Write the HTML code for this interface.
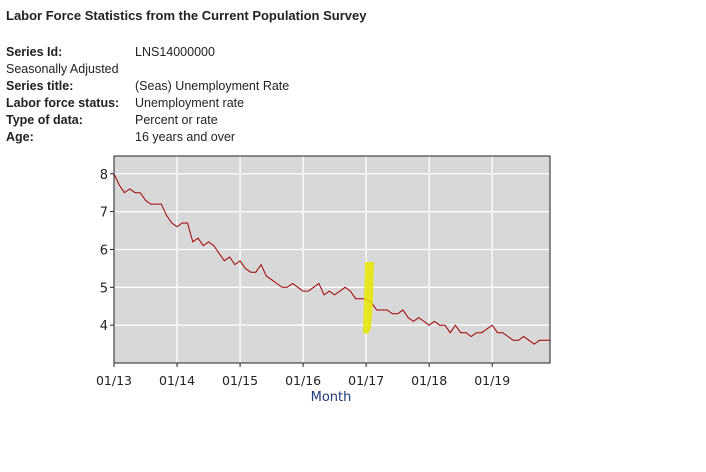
<!DOCTYPE html>
<html><head><meta charset="utf-8"><style>
body{margin:0;width:706px;height:472px;background:#fff;font-family:"Liberation Sans",sans-serif;overflow:hidden;position:relative}
.t{position:absolute;font-size:12.5px;color:#222}
.b{font-weight:bold}
</style></head><body>
<div class="t b" style="left:6px;top:8px;font-size:13px">Labor Force Statistics from the Current Population Survey</div>
<div class="t b" style="left:6px;top:45px">Series Id:</div>
<div class="t" style="left:135px;top:45px">LNS14000000</div>
<div class="t" style="left:6px;top:62px">Seasonally Adjusted</div>
<div class="t b" style="left:6px;top:79px">Series title:</div>
<div class="t" style="left:135px;top:79px">(Seas) Unemployment Rate</div>
<div class="t b" style="left:6px;top:96px">Labor force status:</div>
<div class="t" style="left:135px;top:96px">Unemployment rate</div>
<div class="t b" style="left:6px;top:113px">Type of data:</div>
<div class="t" style="left:135px;top:113px">Percent or rate</div>
<div class="t b" style="left:6px;top:130px">Age:</div>
<div class="t" style="left:135px;top:130px">16 years and over</div>
<svg id="chart" width="706" height="472" style="position:absolute;left:0;top:0"></svg>
<script>
const values=[8.0,7.7,7.5,7.6,7.5,7.5,7.3,7.2,7.2,7.2,6.9,6.7,
6.6,6.7,6.7,6.2,6.3,6.1,6.2,6.1,5.9,5.7,5.8,5.6,
5.7,5.5,5.4,5.4,5.6,5.3,5.2,5.1,5.0,5.0,5.1,5.0,
4.9,4.9,5.0,5.1,4.8,4.9,4.8,4.9,5.0,4.9,4.7,4.7,
4.7,4.6,4.4,4.4,4.4,4.3,4.3,4.4,4.2,4.1,4.2,4.1,
4.0,4.1,4.0,4.0,3.8,4.0,3.8,3.8,3.7,3.8,3.8,3.9,
4.0,3.8,3.8,3.7,3.6,3.6,3.7,3.6,3.5,3.6,3.6,3.6];
const xTickLabels=["01/13","01/14","01/15","01/16","01/17","01/18","01/19"];
const yTicks=[4,5,6,7,8];
const L=114,R=550,T=156,B=363,yMin=3,yMax=8.47;
const xS=i=>L+i*(R-L)/(values.length-1);
const yS=v=>B-(v-yMin)*(B-T)/(yMax-yMin);
const svg=document.getElementById('chart');const NS='http://www.w3.org/2000/svg';
function mk(tag,attrs,name,txt){const e=document.createElementNS(NS,tag);for(const k in attrs)e.setAttribute(k,attrs[k]);


if(txt)e.textContent=txt;svg.appendChild(e);return e;}
mk('rect',{x:L,y:T,width:R-L,height:B-T,fill:'#d8d8d8'},'plot-area');
yTicks.forEach(v=>{const y=yS(v);
mk('line',{x1:L,x2:R,y1:y,y2:y,stroke:'#fff','stroke-width':1.3},'y-gridline');
mk('line',{x1:L-4,x2:L,y1:y,y2:y,stroke:'#222'},'y-tick');
mk('text',{x:L-6,y:y+5,'text-anchor':'end','font-size':13,fill:'#222','font-family':'DejaVu Sans, sans-serif'},'y-tick-label',String(v));});
xTickLabels.forEach((s,k)=>{const x=xS(k*12);
if(k>0)mk('line',{x1:x,x2:x,y1:T,y2:B,stroke:'#fff','stroke-width':1.3},'x-gridline');
mk('line',{x1:x,x2:x,y1:B,y2:B+4,stroke:'#222'},'x-tick');
mk('text',{x:x,y:B+22,'text-anchor':'middle','font-size':12.5,fill:'#222','font-family':'DejaVu Sans, sans-serif'},'x-tick-label',s);});
mk('path',{d:`M${L},${T}H${R}V${B}H${L}Z`,fill:'none',stroke:'#222','stroke-width':1},'plot-border');
mk('path',{d:values.map((v,i)=>(i?'L':'M')+xS(i).toFixed(1)+','+yS(v).toFixed(1)).join(''),fill:'none',stroke:'#a00000','stroke-width':1},'unemployment-line');
mk('path',{d:'M365,262L374,262L373,302L371,328L368,334L363,333L364,300Z',fill:'#e6e600',opacity:0.85},'highlight-mark');
mk('text',{x:331,y:401,'text-anchor':'middle','font-size':13,fill:'#1f3a7a','font-family':'DejaVu Sans, sans-serif'},'x-axis-title','Month');
</script>
</body></html>
